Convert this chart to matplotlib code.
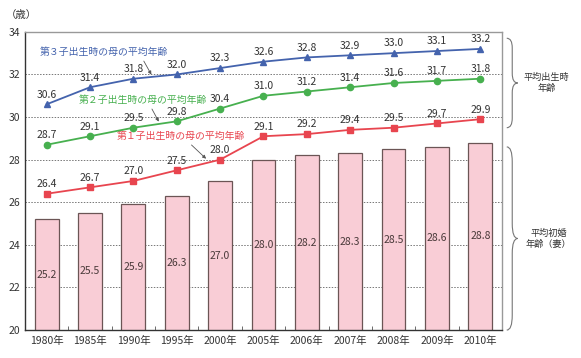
import numpy as np
import matplotlib.pyplot as plt
from matplotlib.path import Path
from matplotlib.patches import PathPatch
import matplotlib.transforms as mtransforms

plt.rcParams['font.family'] = ['Noto Sans CJK JP', 'DejaVu Sans']

years = ["1980年", "1985年", "1990年", "1995年", "2000年", "2005年",
         "2006年", "2007年", "2008年", "2009年", "2010年"]
marriage = [25.2, 25.5, 25.9, 26.3, 27.0, 28.0, 28.2, 28.3, 28.5, 28.6, 28.8]
first_child = [26.4, 26.7, 27.0, 27.5, 28.0, 29.1, 29.2, 29.4, 29.5, 29.7, 29.9]
second_child = [28.7, 29.1, 29.5, 29.8, 30.4, 31.0, 31.2, 31.4, 31.6, 31.7, 31.8]
third_child = [30.6, 31.4, 31.8, 32.0, 32.3, 32.6, 32.8, 32.9, 33.0, 33.1, 33.2]

c_blue = "#4463ad"
c_green = "#47b04f"
c_red = "#e8454f"
c_text = "#333333"

fig = plt.figure(figsize=(5.81, 3.58), dpi=100)
ax = fig.add_axes([0.043, 0.078, 0.821, 0.833])
x = np.arange(len(years))

# bars: mean age at first marriage
ax.bar(x, marriage, width=0.55, bottom=0, color="#f9cdd6", edgecolor="#6b5555",
       linewidth=0.9, zorder=2)
for xi, v in zip(x, marriage):
    ax.text(xi, (v + 20) / 2, f"{v:.1f}", ha="center", va="center",
            fontsize=7.5, color="#4a3a3a", zorder=3)

# lines
series = [(third_child, c_blue, "^"), (second_child, c_green, "o"), (first_child, c_red, "s")]
for vals, col, mk in series:
    ax.plot(x, vals, color=col, lw=1.3, marker=mk, ms=4.5, zorder=4)
    for xi, v in zip(x, vals):
        ax.text(xi, v + 0.22, f"{v:.1f}", ha="center", va="bottom",
                fontsize=7.5, color=c_text, zorder=5)

# line captions with arrows (pointing at a spot on each line)
def on_line(vals, xp):
    return np.interp(xp, x, vals)

def arrow(rx):
    return dict(arrowstyle="-|>", lw=0.6, color="#555555", mutation_scale=5,
                shrinkA=1, shrinkB=1, relpos=(rx, 0))

ax.annotate("第３子出生時の母の平均年齢", xy=(2.43, on_line(third_child, 2.43) + 0.05),
            xytext=(-0.15, 33.05), fontsize=7.1, color=c_blue, arrowprops=arrow(0.79),
            ha="left", va="center")
ax.annotate("第２子出生時の母の平均年齢", xy=(2.6, on_line(second_child, 2.6) + 0.05),
            xytext=(0.75, 30.8), fontsize=7.1, color=c_green, arrowprops=arrow(0.55),
            ha="left", va="center")
ax.annotate("第１子出生時の母の平均年齢", xy=(3.7, first_child[4]),
            xytext=(1.62, 29.1), fontsize=7.1, color=c_red, arrowprops=arrow(0.55),
            ha="left", va="center")

ax.set_xlim(-0.5, len(years) - 0.5)
ax.set_ylim(20, 34)
ax.set_yticks(np.arange(20, 35, 2))
ax.set_xticks(x)
ax.set_xticklabels(years)
ax.set_xticks(np.arange(0.5, len(years) - 1, 1), minor=True)
ax.tick_params(axis="both", labelsize=7.5, colors=c_text, length=0)
ax.tick_params(axis="x", which="minor", direction="in", length=3, color="#555555")
ax.tick_params(axis="x", pad=4)
ax.yaxis.grid(True, linestyle=(0, (1.5, 1.5)), color="#777777", lw=0.7)
ax.set_axisbelow(True)
ax.spines["left"].set_color("#333333")
ax.spines["bottom"].set_color("#333333")
ax.spines["top"].set_color("#999999")
ax.spines["right"].set_color("#999999")
for s in ax.spines.values():
    s.set_linewidth(1.0)

fig.text(0.01, 0.957, "（歳）", fontsize=7.5, color=c_text, ha="left", va="center")

# curly braces on the right
trans = mtransforms.blended_transform_factory(ax.transAxes, ax.transData)

def brace(y_top, y_bot, x0=1.01, w=0.023, r=0.6):
    x1 = x0 + w / 2
    x2 = x0 + w
    ym = (y_top + y_bot) / 2
    verts = [(x0, y_top), (x1, y_top), (x1, y_top - r),
             (x1, ym + r), (x1, ym), (x2, ym),
             (x1, ym), (x1, ym - r),
             (x1, y_bot + r), (x1, y_bot), (x0, y_bot)]
    codes = [Path.MOVETO, Path.CURVE3, Path.CURVE3,
             Path.LINETO, Path.CURVE3, Path.CURVE3,
             Path.CURVE3, Path.CURVE3,
             Path.LINETO, Path.CURVE3, Path.CURVE3]
    p = PathPatch(Path(verts, codes), transform=trans, fill=False,
                  edgecolor="#777777", lw=0.8, clip_on=False)
    ax.add_patch(p)
    return ym

ym1 = brace(33.7, 29.5, r=0.45)
ym2 = brace(28.6, 20.0, r=0.7)
ax.text(1.093, ym1, "平均出生時\n年齢", transform=trans, fontsize=6.6, color=c_text,
        ha="center", va="center", linespacing=1.3)
ax.text(1.098, ym2, "平均初婚\n年齢（妻）", transform=trans, fontsize=6.6, color=c_text,
        ha="center", va="center", linespacing=1.3)

fig.savefig("out.png", dpi=100)
